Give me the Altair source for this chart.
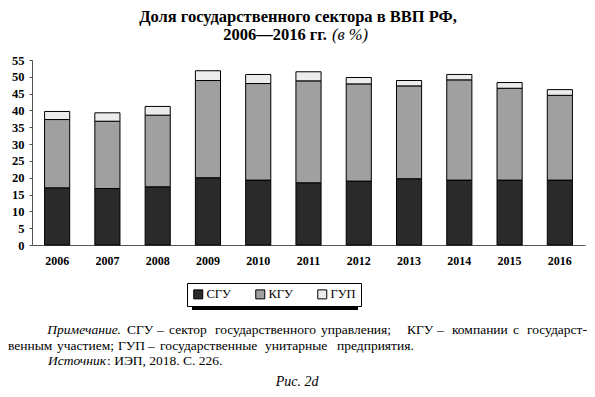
import altair as alt
import pandas as pd

years = ["2006", "2007", "2008", "2009", "2010", "2011", "2012", "2013", "2014", "2015", "2016"]
sgu = [17.0, 16.8, 17.3, 20.0, 19.3, 18.5, 19.0, 19.7, 19.3, 19.3, 19.3]
kgu = [20.3, 20.0, 21.3, 28.9, 28.7, 30.3, 28.9, 27.6, 29.8, 27.3, 25.2]
gup = [2.4, 2.5, 2.6, 2.9, 2.7, 2.7, 1.9, 1.6, 1.6, 1.7, 1.7]
series = ["СГУ", "КГУ", "ГУП"]
colors = ["#2a2a2a", "#a0a0a0", "#ececec"]
y_ticks = list(range(0, 60, 5))

FONT = "Liberation Serif"

rows = []
for i, y in enumerate(years):
    for k, (name, vals) in enumerate(zip(series, [sgu, kgu, gup])):
        rows.append({"year": y, "series": name, "value": vals[i], "order": k})
df = pd.DataFrame(rows)

one = pd.DataFrame({"a": [0]})

bars = alt.Chart(df).mark_bar(stroke="black", strokeWidth=1).encode(
    x=alt.X("year:N", sort=years, title=None,
            scale=alt.Scale(paddingInner=0.5, paddingOuter=0.25),
            axis=alt.Axis(labelAngle=0, ticks=False, domain=True, domainColor="#555",
                          labelFont=FONT, labelFontSize=12, labelFontWeight="bold",
                          labelColor="black", labelPadding=10)),
    y=alt.Y("value:Q", stack="zero", title=None,
            scale=alt.Scale(domain=[0, 55], nice=False),
            axis=alt.Axis(values=y_ticks, grid=False, domain=True, domainColor="#555",
                          ticks=True, tickSize=3, tickColor="#555",
                          labelFont=FONT, labelFontSize=12.5, labelFontWeight="bold",
                          labelColor="black", labelPadding=5)),
    color=alt.Color("series:N", sort=series,
                    scale=alt.Scale(domain=series, range=colors),
                    legend=alt.Legend(title=None, orient="none", legendX=155, legendY=223,
                                      direction="horizontal", fillColor="white",
                                      strokeColor="black", padding=5,
                                      symbolType="square", symbolSize=81,
                                      symbolStrokeColor="black", symbolStrokeWidth=1,
                                      labelFont=FONT, labelFontSize=12.5, labelColor="black",
                                      labelOffset=2, columnPadding=22)),
    order=alt.Order("order:Q", sort="ascending"),
)

shadow = alt.Chart(one).mark_rect(color="black").encode(
    x=alt.value(160), x2=alt.value(326), y=alt.value(228), y2=alt.value(250))


def txt(text, x, y, align="left", style="normal", weight="normal", size=13.5, baseline="middle"):
    return alt.Chart(one).mark_text(
        text=text, align=align, baseline=baseline, font=FONT, fontSize=size,
        fontStyle=style, fontWeight=weight, color="black",
    ).encode(x=alt.value(x), y=alt.value(y))


# justified note lines: (word, x, align) triples, layout only
note_line1 = [("СГУ", 95, "left"), ("–", 125, "left"), ("сектор", 137, "left"),
              ("государственного", 183, "left"), ("управления;", 289, "left"),
              ("КГУ", 375, "left"), ("–", 405, "left"), ("компании", 420, "left"),
              ("с", 481, "left"), ("государст-", 555, "right")]
note_line2 = [("венным", -24, "left"), ("участием;", 25, "left"), ("ГУП", 86, "left"),
              ("–", 116, "left"), ("государственные", 128, "left"),
              ("унитарные", 233, "left"), ("предприятия.", 305, "left")]

texts = [
    txt("Доля государственного сектора в ВВП РФ,", 266, -43, align="center", weight="bold", size=16.5),
    txt("2006—2016 гг.", 295, -25, align="right", weight="bold", size=16.5),
    txt("(в %)", 300, -25, align="left", style="italic", size=16.5),
    txt("Примечание.", 89, 270, align="right", style="italic"),
    txt("Источник", 74, 301, align="right", style="italic"),
    txt(": ИЭП, 2018. С. 226.", 75, 301),
    txt("Рис. 2d", 265, 326, align="center", style="italic", size=14, baseline="alphabetic"),
]
texts += [txt(w, x, 270, align=a) for w, x, a in note_line1]
texts += [txt(w, x, 286, align=a) for w, x, a in note_line2]

chart = alt.layer(shadow, bars, *texts).properties(
    width=553, height=185,
    autosize=alt.AutoSizeParams(type="none"),
    padding={"left": 24, "top": 52, "right": 2, "bottom": 144},
).configure_view(stroke=None)

chart.save("out.html", embed_options={"renderer": "svg", "actions": False})
